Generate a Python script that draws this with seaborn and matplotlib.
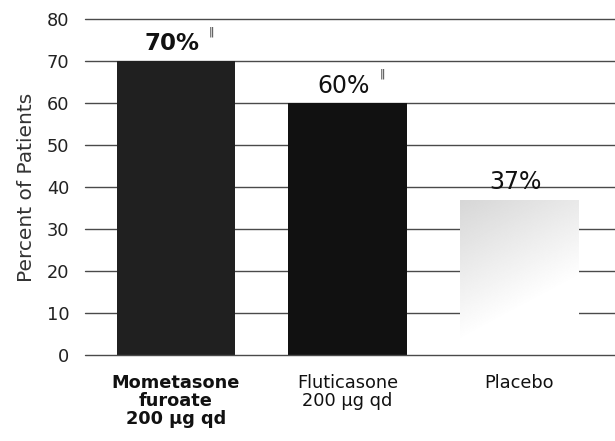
import numpy as np
import pandas as pd
import matplotlib
matplotlib.use("Agg")
import matplotlib.pyplot as plt
import seaborn as sns

# Treatment groups and response rates
treatments = ["Mometasone\nfuroate\n200 \u00b5g qd", "Fluticasone\n200 \u00b5g qd", "Placebo"]
percent = [70, 60, 37]
value_labels = ["70%", "60%", "37%"]
footnote_marks = ["\u2016", "\u2016", ""]
yticks = [0, 10, 20, 30, 40, 50, 60, 70, 80]

sns.set_theme(style="white")
plt.rcParams["font.family"] = ["DejaVu Sans"]

df = pd.DataFrame({"treatment": treatments, "percent": percent})

fig = plt.figure(figsize=(6.15, 4.41), dpi=100)
ax = fig.add_axes([0.138, 0.195, 0.862, 0.762])

bar_colors = ["#202020", "#111111", "#f0f0f0"]
sns.barplot(data=df, x="treatment", y="percent", hue="treatment",
            palette=bar_colors, width=0.69, ax=ax, legend=False,
            saturation=1, edgecolor="none", zorder=3)

ax.set_yticks(yticks)
ax.set_yticklabels([str(t) for t in yticks], fontsize=12.8, color="#222222")
ax.tick_params(axis="y", length=0, pad=11)
ax.tick_params(axis="x", length=0, pad=14)

# horizontal rules behind the bars; the baseline stays on top
for t in yticks:
    ax.axhline(t, color="#4a4a4a", lw=1.0, zorder=5 if t == 0 else 1,
               clip_on=False)

for s in ax.spines.values():
    s.set_visible(False)

# faded gradient fill on the placebo bar
placebo = ax.patches[2]
x0, y0 = placebo.get_x(), placebo.get_y()
w, h = placebo.get_width(), placebo.get_height()
gy, gx = np.mgrid[0:1:200j, 0:1:200j]
shade = 0.84 + 0.16 * np.clip(gy * 1.1 + gx * 0.45, 0, 1)
img = ax.imshow(shade, cmap="gray", vmin=0, vmax=1, origin="upper",
                extent=[x0, x0 + w, y0, y0 + h], aspect="auto", zorder=4)
img.set_clip_path(placebo)
ax.set_xlim(-0.53, 2.56)
ax.set_ylim(0, 80)

# value labels above the bars
for i, (p, lab, mark) in enumerate(zip(ax.patches[:3], value_labels, footnote_marks)):
    cx = p.get_x() + p.get_width() / 2 - 0.02
    top = p.get_height()
    weight = "bold" if i == 0 else "normal"
    size = 16.5 if i == 0 else 17
    ax.annotate(lab, (cx, top), xytext=(0, 12.5), textcoords="offset points",
                ha="center", va="center", fontsize=size, fontweight=weight,
                color="#111111", zorder=6)
    if mark:
        ax.annotate(mark, (cx, top), xytext=(28, 21), textcoords="offset points",
                    ha="center", va="center", fontsize=8, color="#333333",
                    zorder=6)

ax.set_xlabel("")
ax.set_ylabel("Percent of Patients", fontsize=14.5, color="#333333", labelpad=8)
for i, lbl in enumerate(ax.get_xticklabels()):
    lbl.set_fontsize(12.8)
    lbl.set_color("#111111")
    lbl.set_linespacing(1.0)
    if i == 0:
        lbl.set_fontweight("bold")

fig.savefig("out.png", dpi=100, facecolor="white")
